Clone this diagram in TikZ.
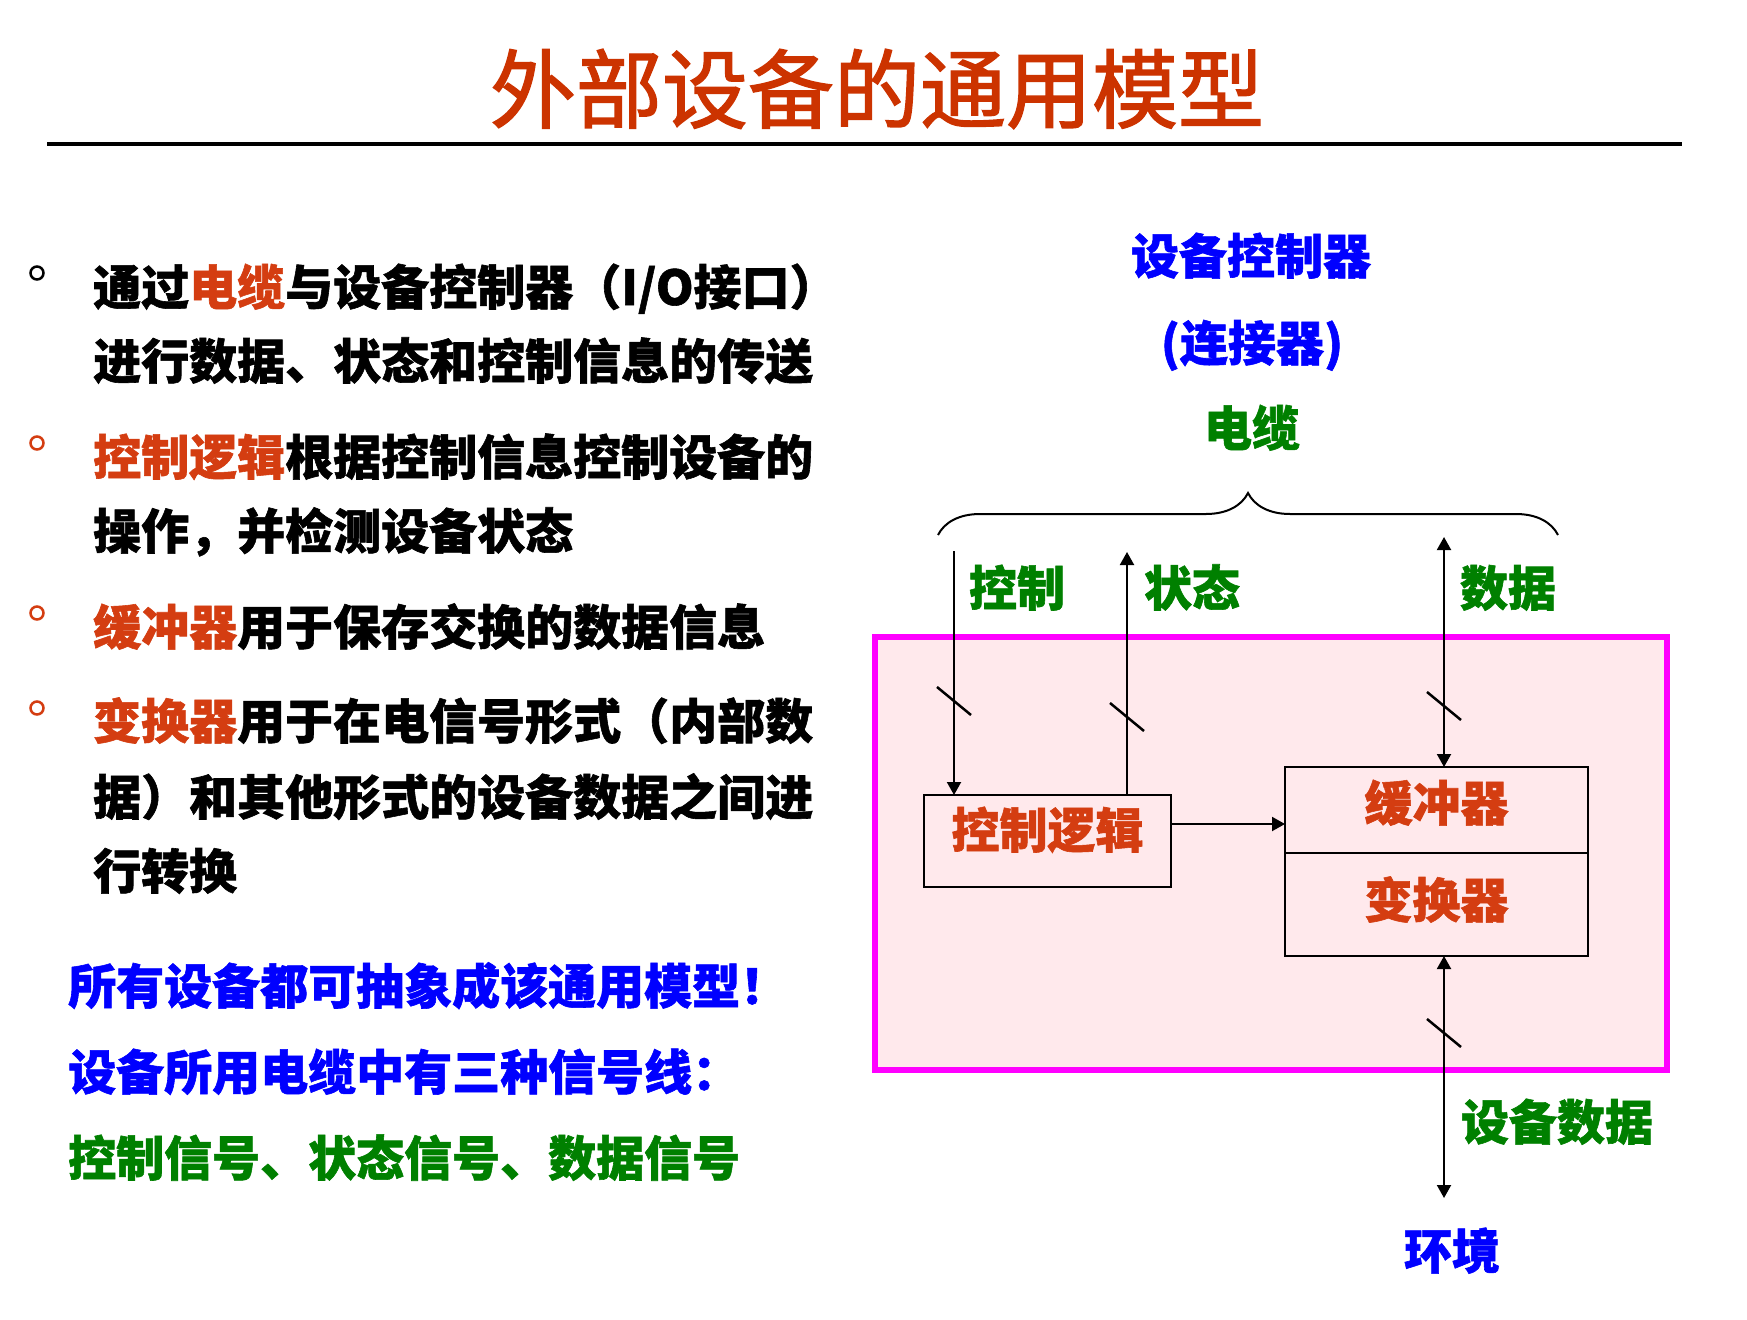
\documentclass[tikz,border=0pt]{standalone}
\usepackage{fontspec}
\usepackage{xcolor}
\usepackage{tikz}
\usetikzlibrary{arrows.meta,positioning,decorations.pathreplacing}
\setmainfont{Noto Sans CJK SC}[BoldFeatures={FakeBold=1.2}]
\newfontfamily\titlefont{Noto Sans CJK SC}[FakeBold=1.6]
\definecolor{TitleRed}{HTML}{CC3300}
\definecolor{KeyRed}{HTML}{D43D11}
\definecolor{LinkBlue}{HTML}{0000FF}
\definecolor{SignalGreen}{HTML}{008000}
\definecolor{DevicePink}{HTML}{FFE9EC}
\definecolor{DeviceEdge}{HTML}{FF00FF}
\newcommand{\keyword}[1]{{\color{KeyRed}#1}}

\begin{document}
\begin{tikzpicture}[
  x=1pt, y=-1pt,
  headline/.style={inner sep=0pt,font=\titlefont\fontsize{86}{100}\selectfont,text=TitleRed},
  tag/.style={inner sep=0pt,text height=40pt,text depth=4pt,font=\fontsize{48}{58}\selectfont\bfseries},
  txt/.style={tag,anchor=west},
  bulletdot/.style={circle,draw,line width=2.5pt,minimum size=13pt,inner sep=0pt},
  unitbox/.style={draw,line width=2pt,outer sep=0pt,tag,text=KeyRed},
  wire/.style={line width=2pt},
  arrow/.style={wire,-{Triangle[length=13pt,width=14pt]}},
  twoway/.style={wire,{Triangle[length=13pt,width=14pt]}-{Triangle[length=13pt,width=14pt]}},
  slash/.pic={\draw[line width=2.5pt] (-17,-14) -- (17,14);}
]
  \path[use as bounding box,fill=white] (0,0) rectangle (1747,1319);

  \node[headline] (title) at (877,89) {外部设备的通用模型};
  \coordinate (ruleL) at (47,144);
  \coordinate (ruleR) at (1682,144);
  \draw[line width=4.5pt] (ruleL) -- (ruleR);

  \node[bulletdot] (b1) at (37,273) {};
  \node[bulletdot,draw=KeyRed] (b2) at (37,443) {};
  \node[bulletdot,draw=KeyRed] (b3) at (37,613) {};
  \node[bulletdot,draw=KeyRed] (b4) at (37,708) {};

  \node[txt] (l1) at (93,287) {通过\keyword{电缆}与设备控制器（I/O接口）};
  \node[txt] (l2) at (93,361) {进行数据、状态和控制信息的传送};
  \node[txt] (l3) at (93,457) {\keyword{控制逻辑}根据控制信息控制设备的};
  \node[txt] (l4) at (93,531) {操作，并检测设备状态};
  \node[txt] (l5) at (93,627) {\keyword{缓冲器}用于保存交换的数据信息};
  \node[txt] (l6) at (93,721) {\keyword{变换器}用于在电信号形式（内部数};
  \node[txt] (l7) at (93,797) {据）和其他形式的设备数据之间进};
  \node[txt] (l8) at (93,871) {行转换};
  \node[txt,text=LinkBlue] (n1) at (68,986) {所有设备都可抽象成该通用模型！};
  \node[txt,text=LinkBlue] (n2) at (68,1072) {设备所用电缆中有三种信号线：};
  \node[txt,text=SignalGreen] (n3) at (68,1158) {控制信号、状态信号、数据信号};

  \node[tag,text=LinkBlue] (ctrlname) at (1251,256) {设备控制器};
  \node[tag,text=LinkBlue] (connector) at (1252,343) {(连接器)};
  \node[tag,text=SignalGreen] (cable) at (1252,428) {电缆};
  \coordinate (braceL) at (938,535);
  \coordinate (braceR) at (1558,535);
  \draw[line width=2pt,decorate,decoration={brace,amplitude=42pt}] (braceL) -- (braceR);

  \node[draw=DeviceEdge,fill=DevicePink,line width=6pt,inner sep=0pt,
        minimum width=792pt,minimum height=432.5pt] (device) at (1270.5,853.25) {};
  \node[unitbox,text depth=26pt,minimum width=247pt,minimum height=92pt] (logic) at (1047.5,841) {控制逻辑};
  \node[unitbox,text depth=18pt,minimum width=303pt,minimum height=86pt] (buffer) at (1436.5,810) {缓冲器};
  \node[unitbox,text depth=13pt,minimum width=303pt,minimum height=103pt,below=0pt of buffer] (convert) {变换器};

  \node[tag,text=SignalGreen] (ctrllab) at (1017,588) {控制};
  \node[tag,text=SignalGreen] (statlab) at (1192,588) {状态};
  \node[tag,text=SignalGreen] (datalab) at (1508,588) {数据};
  \node[tag,text=SignalGreen] (devdata) at (1557,1122) {设备数据};
  \node[tag,text=LinkBlue] (env) at (1452,1251) {环境};

  \coordinate (ctrlend) at (954,551);
  \coordinate (statend) at (1127,552);
  \coordinate (dataend) at (1444,537);
  \coordinate (envend) at (1444,1198);
  \coordinate (linkrow) at (0,824);
  \draw[arrow] (ctrlend) -- (ctrlend |- logic.north);
  \draw[arrow] (statend |- logic.north) -- (statend);
  \draw[twoway] (dataend) -- (dataend |- buffer.north);
  \draw[arrow] (logic.east |- linkrow) -- (buffer.west |- linkrow);
  \draw[twoway] (dataend |- convert.south) -- (envend);

  \foreach \p in {(954,701),(1127,717),(1444,706),(1444,1033)}
    \pic at \p {slash};
\end{tikzpicture}
\end{document}
